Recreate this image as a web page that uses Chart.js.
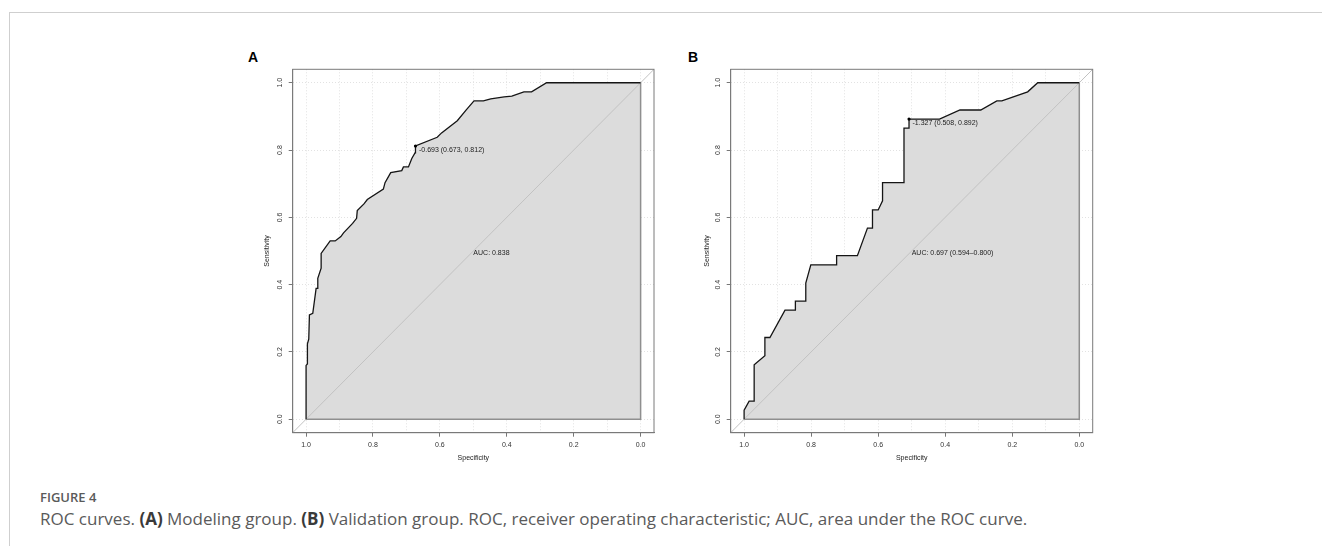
<!DOCTYPE html>
<html><head><meta charset="utf-8">
<script src="https://cdn.jsdelivr.net/npm/chart.js@4.4.0/dist/chart.umd.min.js"></script>
<style>
html,body{margin:0;padding:0;background:#fff;width:1322px;height:546px;overflow:hidden;position:relative;font-family:"Open Sans",sans-serif}
#frame{position:absolute;left:9px;top:12px;width:1330px;height:560px;border-top:1px solid #cfcfcf;border-left:1px solid #cfcfcf}
.pl{position:absolute;font:bold 14px "Liberation Sans",Arial,sans-serif;color:#000;line-height:14px}
canvas{position:absolute}
#fig{position:absolute;left:40px;top:489px;font-size:13px;font-weight:600;color:#5a5a5a;line-height:16px;white-space:nowrap}
#cap{position:absolute;left:40px;top:508px;font-size:17px;color:#5a5a5a;line-height:22px;white-space:nowrap}
#cap b{color:#3a3a3a;font-weight:700}
</style></head>
<body>
<div id="frame"></div>
<div class="pl" style="left:248px;top:50px">A</div>
<div class="pl" style="left:688px;top:50px">B</div>
<canvas id="cA" width="438" height="410" style="left:230px;top:60px;width:438px;height:410px"></canvas>
<canvas id="cB" width="440" height="410" style="left:668px;top:60px;width:440px;height:410px"></canvas>
<div id="fig">FIGURE 4</div>
<div id="cap">ROC curves. <b>(A)</b> Modeling group. <b>(B)</b> Validation group. ROC, receiver operating characteristic; AUC, area under the ROC curve.</div>
<script>
// ---- data ----
const specA = [1.000,1.000,0.996,0.996,0.992,0.990,0.980,0.970,0.965,0.965,0.955,0.955,0.928,0.913,0.896,0.888,0.861,0.849,0.847,0.827,0.817,0.769,0.764,0.747,0.714,0.709,0.694,0.684,0.674,0.673,0.608,0.595,0.548,0.520,0.498,0.470,0.448,0.408,0.385,0.349,0.326,0.281,0.000];
const sensA = [0.000,0.160,0.164,0.224,0.238,0.310,0.315,0.389,0.389,0.419,0.449,0.493,0.530,0.530,0.543,0.554,0.582,0.597,0.620,0.640,0.653,0.684,0.703,0.733,0.739,0.750,0.750,0.775,0.792,0.812,0.838,0.851,0.887,0.921,0.946,0.946,0.952,0.958,0.960,0.973,0.973,1.000,1.000];
const thresholdA = [0.673, 0.812];
const thresholdLabelA = "-0.693 (0.673, 0.812)";
const aucLabelA = "AUC: 0.838";

const specB = [1.000,1.000,0.985,0.970,0.970,0.938,0.938,0.923,0.878,0.847,0.847,0.816,0.816,0.801,0.724,0.724,0.662,0.632,0.617,0.617,0.600,0.587,0.587,0.523,0.523,0.508,0.508,0.417,0.356,0.294,0.246,0.231,0.154,0.124,0.000];
const sensB = [0.000,0.027,0.054,0.054,0.162,0.189,0.243,0.243,0.324,0.324,0.351,0.351,0.405,0.459,0.459,0.486,0.486,0.568,0.568,0.622,0.622,0.649,0.703,0.703,0.865,0.865,0.892,0.892,0.919,0.919,0.946,0.946,0.973,1.000,1.000];
const thresholdB = [0.508, 0.892];
const thresholdLabelB = "-1.327 (0.508, 0.892)";
const aucLabelB = "AUC: 0.697 (0.594\u20130.800)";

const xTicks = [0,0.1,0.2,0.3,0.4,0.5,0.6,0.7,0.8,0.9,1.0];
const yTicks = [0,0.2,0.4,0.6,0.8,1.0];
const axisMin = -0.04, axisMax = 1.04;
const diagSpec = [axisMax, axisMin];
const diagSens = [axisMin, axisMax];
const edgeSpec = [0, 0, 1];
const edgeSens = [1, 0, 0];
const aucPos = [0.5, 0.5];

const FONT = '"Liberation Sans", Arial, sans-serif';

const boxAndText = {
  id: 'boxAndText',
  afterDatasetsDraw(chart, args, opts) {
    const {ctx, chartArea: a, scales: {x, y}} = chart;
    ctx.save();
    ctx.strokeStyle = '#7a7a7a'; ctx.lineWidth = 1;
    ctx.strokeRect(a.left, a.top, a.right - a.left, a.bottom - a.top);
    ctx.fillStyle = '#222';
    ctx.font = '7px ' + FONT;
    ctx.textBaseline = 'middle'; ctx.textAlign = 'left';
    for (const t of opts.texts) {
      ctx.fillText(t.text, x.getPixelForValue(t.x) + t.dx, y.getPixelForValue(t.y) + t.dy);
    }
    ctx.restore();
  }
};

function pts(xs, ys) { return xs.map((v, i) => ({x: v, y: ys[i]})); }

function makeChart(id, spec, sens, thr, thrLabel, aucLabel, padL, padR, yW, xH, padB) {
  new Chart(document.getElementById(id), {
    type: 'scatter',
    data: { datasets: [
      { data: [{x: thr[0], y: thr[1]}], pointRadius: 1.6, pointBackgroundColor: '#000', pointBorderWidth: 0, showLine: false, order: 0 },
      { data: pts(spec, sens), showLine: true, borderColor: '#151515', borderWidth: 1.3, pointRadius: 0, fill: 'origin', backgroundColor: '#dcdcdc', tension: 0, order: 1 },
      { data: pts(diagSpec, diagSens), showLine: true, borderColor: '#c2c2c2', borderWidth: 1, pointRadius: 0, order: 2 },
      { data: pts(edgeSpec, edgeSens), showLine: true, borderColor: '#8f8f8f', borderWidth: 1.5, pointRadius: 0, order: 3 }
    ]},
    options: {
      responsive: false, animation: false, devicePixelRatio: 1,
      layout: { padding: { left: padL, right: padR, top: 9.3, bottom: padB } },
      plugins: {
        legend: { display: false }, tooltip: { enabled: false },
        filler: { drawTime: 'beforeDatasetsDraw' },
        boxAndText: { texts: [
          { text: thrLabel, x: thr[0], y: thr[1], dx: 3.5, dy: 4 },
          { text: aucLabel, x: aucPos[0], y: aucPos[1], dx: 0, dy: 2 }
        ]}
      },
      scales: {
        x: {
          type: 'linear', reverse: true, min: axisMin, max: axisMax,
          afterBuildTicks: s => { s.ticks = xTicks.map(v => ({value: v})); },
          afterFit: s => { s.height = xH; },
          ticks: { callback: v => (Math.round(v * 10) % 2 === 0 ? v.toFixed(1) : ''), font: { size: 7, family: FONT }, color: '#333', padding: 4, autoSkip: false, maxRotation: 0, minRotation: 0 },
          grid: { color: '#e2e2e2', lineWidth: 1, tickLength: 4, tickColor: c => (Math.round(c.tick.value * 10) % 2 === 0 ? '#777' : 'rgba(0,0,0,0)') },
          border: { display: true, color: '#7a7a7a', dash: [1, 2] },
          title: { display: true, text: 'Specificity', font: { size: 7, family: FONT }, color: '#222', padding: 0 }
        },
        y: {
          type: 'linear', min: axisMin, max: axisMax,
          afterBuildTicks: s => { s.ticks = yTicks.map(v => ({value: v})); },
          afterFit: s => { s.width = yW; },
          ticks: { callback: v => v.toFixed(1), font: { size: 7, family: FONT }, color: '#333', padding: 3.5, autoSkip: false, minRotation: 90, maxRotation: 90, crossAlign: 'center' },
          grid: { color: '#e2e2e2', lineWidth: 1, tickLength: 4, tickColor: '#777' },
          border: { display: true, color: '#7a7a7a', dash: [1, 2] },
          title: { display: true, text: 'Sensitivity', font: { size: 7, family: FONT }, color: '#222', padding: 0 }
        }
      }
    },
    plugins: [boxAndText]
  });
}

makeChart('cA', specA, sensA, thresholdA, thresholdLabelA, aucLabelA, 32.5, 14, 30.2, 29.2, 8.1);
makeChart('cB', specB, sensB, thresholdB, thresholdLabelB, aucLabelB, 34.5, 15.3, 28.2, 29.2, 8.1);
</script>
</body></html>
